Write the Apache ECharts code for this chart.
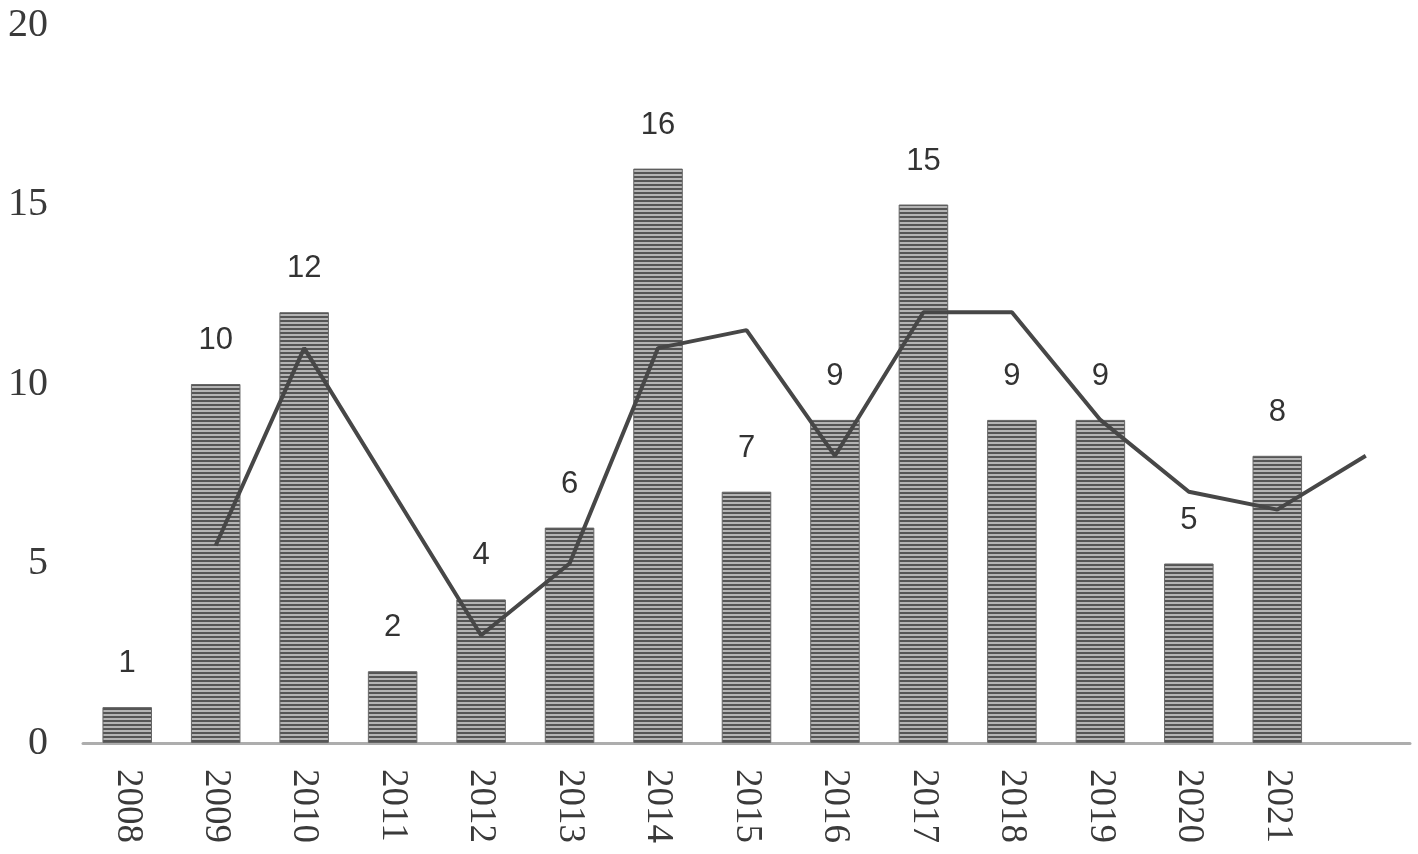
<!DOCTYPE html>
<html>
<head>
<meta charset="utf-8">
<script src="https://cdn.jsdelivr.net/npm/echarts@6/dist/echarts.min.js"></script>
<style>html,body{margin:0;padding:0;background:#fff;}#c{width:1418px;height:854px;}</style>
</head>
<body>
<div id="c"></div>
<script>
var categories = ['2008','2009','2010','2011','2012','2013','2014','2015','2016','2017','2018','2019','2020','2021',''];
var barValues = [1,10,12,2,4,6,16,7,9,15,9,9,5,8];
var lineValues = [null,5.5,11,7,3,5,11,11.5,8,12,12,9,7,6.5,8];
var yTicks = [0,5,10,15,20];

var pc = document.createElement('canvas');
pc.width = 4; pc.height = 4;
var ctx = pc.getContext('2d');
ctx.fillStyle = '#b4b4b4'; ctx.fillRect(0,0,4,4);
ctx.fillStyle = '#555555'; ctx.fillRect(0,0,4,2);

var chart = echarts.init(document.getElementById('c'));
chart.setOption({
  animation: false,
  backgroundColor: '#fff',
  grid: {left: 83, right: 8, top: 25, bottom: 111, containLabel: false},
  xAxis: {
    type: 'category',
    data: categories,
    axisLine: {lineStyle: {color: '#adadad', width: 3}},
    axisTick: {show: false},
    axisLabel: {
      rotate: -90,
      margin: 26,
      interval: 0,
      fontFamily: 'Liberation Serif',
      fontSize: 37,
      color: '#3a3a3a'
    }
  },
  yAxis: {
    type: 'value',
    min: yTicks[0],
    max: yTicks[yTicks.length-1],
    interval: 5,
    axisLine: {show: false},
    axisTick: {show: false},
    splitLine: {show: false},
    axisLabel: {
      margin: 35,
      fontFamily: 'Liberation Serif',
      fontSize: 40,
      color: '#3a3a3a'
    }
  },
  series: [
    {
      type: 'bar',
      data: barValues,
      barWidth: '56%',
      itemStyle: {
        color: {image: pc, repeat: 'repeat'},
        borderColor: '#666666',
        borderWidth: 1
      },
      label: {
        show: true,
        position: 'top',
        distance: 28,
        fontFamily: 'Liberation Sans',
        fontSize: 31,
        color: '#333'
      },
      z: 2
    },
    {
      type: 'line',
      data: lineValues,
      symbol: 'none',
      connectNulls: false,
      lineStyle: {color: '#474747', width: 4},
      z: 3
    }
  ]
});
</script>
</body>
</html>
